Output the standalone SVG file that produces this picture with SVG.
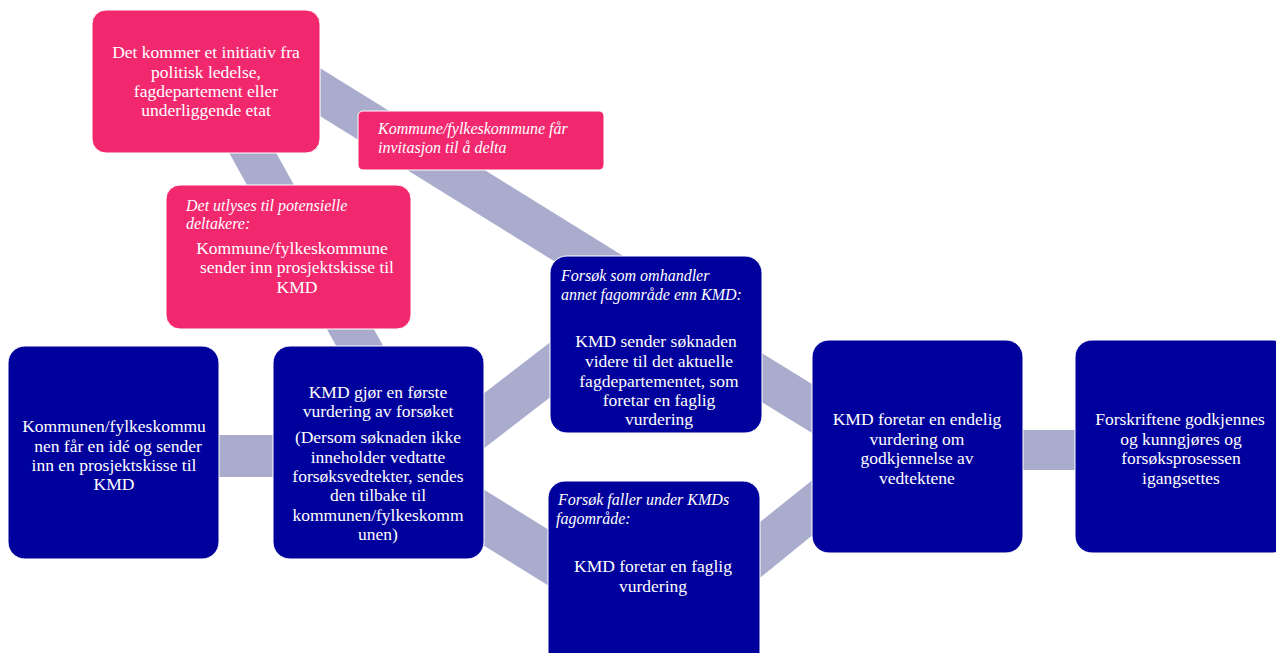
<svg xmlns="http://www.w3.org/2000/svg" width="1276" height="653" viewBox="0 0 1276 653" font-family="'Liberation Serif', 'Times New Roman', serif">
<style>
.band{fill:#A9ACCD;}
.pink{fill:#F2286F;stroke:#ffffff;stroke-width:1;}
.blue{fill:#00009C;stroke:#ffffff;stroke-width:1;}
text{font-family:"Liberation Serif","Times New Roman",serif;fill:#ffffff;}
.r{font-size:17.5px;text-anchor:middle;}
.i{font-size:16px;font-style:italic;}
</style>
<rect width="1276" height="653" fill="#ffffff"/>
<g id="connectors">
<polygon class="band" points="222,140 269,140 391,360 344,360"/>
<polygon class="band" points="290,49.4 640,266.4 640,314.4 290,97.4"/>
<polygon class="band" points="470,404 570,327 570,382 470,459"/>
<polygon class="band" points="470,481 570,543 570,599 470,537"/>
<polygon class="band" points="750,346 825,392 825,441 750,395"/>
<polygon class="band" points="750,530 825,470 825,525 750,586"/>
<rect class="band" x="210" y="435" width="75" height="42"/>
<rect class="band" x="1015" y="430" width="70" height="40"/>
</g>
<g id="n1">
<rect class="pink" x="92" y="10" width="228" height="143" rx="14"/>
<text class="r" x="206" y="58">Det kommer et initiativ fra</text>
<text class="r" x="206" y="78">politisk ledelse,</text>
<text class="r" x="206" y="97">fagdepartement eller</text>
<text class="r" x="206" y="116">underliggende etat</text>
</g>
<g id="n2">
<rect class="pink" x="358" y="111" width="246" height="59" rx="5"/>
<text class="i" x="378" y="134">Kommune/fylkeskommune får</text>
<text class="i" x="378" y="153">invitasjon til å delta</text>
</g>
<g id="n3">
<rect class="pink" x="166" y="185" width="245" height="144" rx="14"/>
<text class="i" x="186" y="211">Det utlyses til potensielle</text>
<text class="i" x="186" y="229">deltakere:</text>
<text class="r" x="292" y="254">Kommune/fylkeskommune</text>
<text class="r" x="297" y="273">sender inn prosjektskisse til</text>
<text class="r" x="297" y="293">KMD</text>
</g>
<g id="n4">
<rect class="blue" x="8" y="346" width="211" height="213" rx="17"/>
<text class="r" x="114" y="432">Kommunen/fylkeskommu</text>
<text class="r" x="118" y="452">nen får en idé og sender</text>
<text class="r" x="114" y="471">inn en prosjektskisse til</text>
<text class="r" x="114" y="490">KMD</text>
</g>
<g id="n5">
<rect class="blue" x="273" y="346" width="211" height="213" rx="17"/>
<text class="r" x="378" y="398">KMD gjør en første</text>
<text class="r" x="378" y="417">vurdering av forsøket</text>
<text class="r" x="378" y="443">(Dersom søknaden ikke</text>
<text class="r" x="378" y="463">inneholder vedtatte</text>
<text class="r" x="378" y="482">forsøksvedtekter, sendes</text>
<text class="r" x="378" y="501">den tilbake til</text>
<text class="r" x="378" y="521">kommunen/fylkeskomm</text>
<text class="r" x="378" y="540">unen)</text>
</g>
<g id="n6">
<rect class="blue" x="550" y="256" width="212" height="177" rx="17"/>
<text class="i" x="561" y="281">Forsøk som omhandler</text>
<text class="i" x="561" y="300">annet fagområde enn KMD:</text>
<text class="r" x="656" y="347">KMD sender søknaden</text>
<text class="r" x="659" y="367">videre til det aktuelle</text>
<text class="r" x="659" y="387">fagdepartementet, som</text>
<text class="r" x="659" y="406">foretar en faglig</text>
<text class="r" x="659" y="425">vurdering</text>
</g>
<g id="n7">
<rect class="blue" x="548" y="481" width="212" height="190" rx="17"/>
<text class="i" x="558" y="505">Forsøk faller under KMDs</text>
<text class="i" x="556" y="524">fagområde:</text>
<text class="r" x="653" y="572">KMD foretar en faglig</text>
<text class="r" x="653" y="592">vurdering</text>
</g>
<g id="n8">
<rect class="blue" x="812" y="340" width="211" height="213" rx="17"/>
<text class="r" x="917" y="425">KMD foretar en endelig</text>
<text class="r" x="917" y="445">vurdering om</text>
<text class="r" x="917" y="464">godkjennelse av</text>
<text class="r" x="917" y="484">vedtektene</text>
</g>
<g id="n9">
<rect class="blue" x="1075" y="340" width="215" height="213" rx="17"/>
<text class="r" x="1180" y="425">Forskriftene godkjennes</text>
<text class="r" x="1181" y="445">og kunngjøres og</text>
<text class="r" x="1181" y="464">forsøksprosessen</text>
<text class="r" x="1181" y="484">igangsettes</text>
</g>
</svg>
